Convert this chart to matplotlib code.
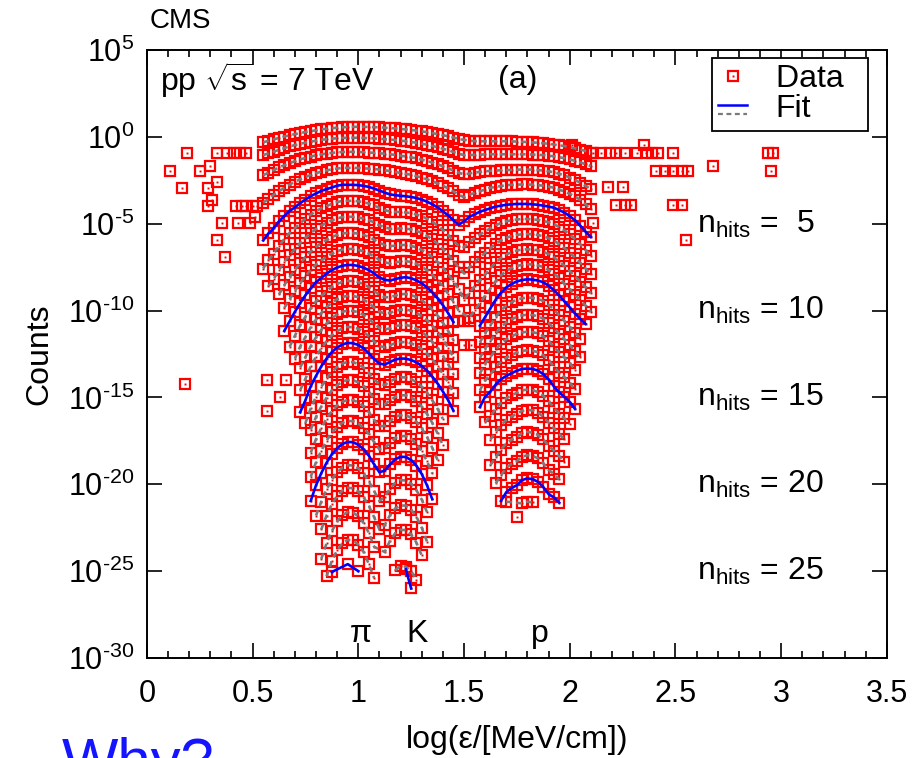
import numpy as np
import matplotlib
matplotlib.use("Agg")
import matplotlib.pyplot as plt
from matplotlib.legend_handler import HandlerBase
from matplotlib.lines import Line2D
from matplotlib.ticker import MultipleLocator, FixedLocator, NullLocator, FuncFormatter

plt.rcParams['font.family'] = ['Liberation Sans', 'DejaVu Sans']
plt.rcParams['mathtext.fontset'] = 'custom'
plt.rcParams['mathtext.rm'] = 'Liberation Sans'
plt.rcParams['mathtext.it'] = 'Liberation Sans:italic'
plt.rcParams['mathtext.default'] = 'regular'

# histogram bin width in log(eps)
bin_width = 0.025
nhits = list(range(1, 26))
# log10 of the pion peak height for each n_hits row
peak_log = [0.58, -0.05, -0.86, -1.78, -2.76, -3.68, -4.6, -5.53, -6.45, -7.37,
            -8.29, -9.15, -10.0, -10.94, -11.86, -12.95, -13.99, -15.14, -16.35, -17.56,
            -18.9, -20.2, -21.6, -23.2, -24.6]
# first bin of the pi/K part and of the proton part of each row
pik_start = [0.55, 0.55, 0.55, 0.55, 0.55, 0.55, 0.575, 0.625, 0.65, 0.65,
             0.675, 0.7, 0.725, 0.725, 0.725, 0.75, 0.775, 0.775, 0.775, 0.775,
             0.8, 0.825, 0.825, 0.85, 0.875]
prot_start = [1.5, 1.5, 1.5, 1.5, 1.5, 1.5, 1.5, 1.5, 1.525, 1.575,
              1.575, 1.575, 1.575, 1.575, 1.575, 1.6, 1.625, 1.625, 1.65, 1.675,
              1.7, 1.75, None, None, None]

# log10 counts relative to the pion peak, pi/K region
pik_01 = [-0.9, -0.8, -0.72, -0.64, -0.56, -0.49, -0.42, -0.36, -0.3, -0.25, -0.2, -0.15, -0.11, -0.08, -0.05, -0.03, -0.01, 0, 0, 0, -0.01, -0.02, -0.03, -0.05, -0.07, -0.09, -0.12, -0.15, -0.18, -0.22, -0.26, -0.31, -0.36, -0.42, -0.48, -0.55, -0.62, -0.7]
pik_02 = [-1.0, -0.9, -0.8, -0.7, -0.6, -0.5, -0.42, -0.35, -0.28, -0.22, -0.17, -0.12, -0.08, -0.05, -0.03, -0.01, 0, 0, 0, -0.01, -0.02, -0.04, -0.06, -0.08, -0.1, -0.13, -0.16, -0.2, -0.24, -0.29, -0.34, -0.4, -0.47, -0.55, -0.63, -0.72, -0.82, -0.92]
pik_03 = [-1.35, -1.2, -1.05, -0.9, -0.77, -0.65, -0.54, -0.44, -0.35, -0.27, -0.2, -0.15, -0.1, -0.06, -0.03, -0.01, 0, 0, -0.01, -0.02, -0.04, -0.06, -0.08, -0.11, -0.14, -0.18, -0.22, -0.27, -0.32, -0.38, -0.45, -0.53, -0.62, -0.72, -0.83, -0.95, -1.08, -1.2]
pik_04 = [-2.0, -1.8, -1.55, -1.35, -1.15, -0.97, -0.8, -0.66, -0.53, -0.41, -0.31, -0.22, -0.15, -0.09, -0.04, -0.01, 0, 0, -0.01, -0.03, -0.05, -0.07, -0.1, -0.14, -0.19, -0.24, -0.3, -0.35, -0.4, -0.48, -0.56, -0.66, -0.77, -0.9, -1.03, -1.19, -1.36, -1.55]
pik_05 = [-3.2, -2.8, -2.5, -2.1, -1.8, -1.5, -1.3, -1.05, -0.85, -0.65, -0.5, -0.35, -0.25, -0.15, -0.05, 0, 0, 0, -0.02, -0.06, -0.12, -0.22, -0.33, -0.45, -0.55, -0.6, -0.63, -0.66, -0.7, -0.76, -0.85, -0.97, -1.12, -1.3, -1.52, -1.76, -2.04, -2.3]
pik_06 = [-3.9, -3.42, -3.04, -2.58, -2.2, -1.85, -1.58, -1.28, -1.03, -0.79, -0.6, -0.43, -0.3, -0.18, -0.07, -0.01, 0, 0, -0.03, -0.08, -0.16, -0.27, -0.41, -0.53, -0.62, -0.64, -0.65, -0.67, -0.71, -0.79, -0.89, -1.03, -1.21, -1.42, -1.68, -1.96, -2.29, -2.61]
pik_07 = [-4.0, -3.58, -3.06, -2.6, -2.2, -1.86, -1.51, -1.21, -0.93, -0.7, -0.51, -0.35, -0.21, -0.09, -0.02, 0, 0, -0.04, -0.1, -0.19, -0.33, -0.49, -0.61, -0.69, -0.69, -0.67, -0.68, -0.73, -0.81, -0.93, -1.1, -1.3, -1.55, -1.84, -2.17, -2.54, -2.92]
pik_08 = [-3.54, -3.0, -2.55, -2.14, -1.74, -1.39, -1.07, -0.8, -0.59, -0.4, -0.24, -0.11, -0.03, 0, 0, -0.04, -0.12, -0.23, -0.39, -0.56, -0.7, -0.76, -0.73, -0.7, -0.69, -0.74, -0.84, -0.98, -1.16, -1.4, -1.67, -2.0, -2.37, -2.79, -3.24]
pik_09 = [-3.4, -2.9, -2.42, -1.97, -1.57, -1.21, -0.9, -0.67, -0.45, -0.27, -0.13, -0.04, 0, 0, -0.05, -0.14, -0.26, -0.44, -0.63, -0.78, -0.83, -0.78, -0.72, -0.7, -0.76, -0.86, -1.02, -1.23, -1.49, -1.8, -2.16, -2.58, -3.04, -3.55]
pik_10 = [-3.8, -3.25, -2.7, -2.2, -1.75, -1.35, -1.0, -0.75, -0.5, -0.3, -0.15, -0.05, 0, -0.01, -0.06, -0.16, -0.3, -0.49, -0.72, -0.86, -0.9, -0.82, -0.74, -0.71, -0.77, -0.89, -1.06, -1.29, -1.58, -1.92, -2.32, -2.78, -3.29]
pik_11 = [-3.8, -3.16, -2.56, -2.06, -1.58, -1.18, -0.87, -0.58, -0.35, -0.17, -0.06, 0, -0.01, -0.07, -0.19, -0.36, -0.58, -0.81, -0.94, -0.94, -0.85, -0.77, -0.75, -0.81, -0.94, -1.11, -1.35, -1.65, -2.0, -2.42, -2.88, -3.41]
pik_12 = [-3.62, -2.92, -2.37, -1.81, -1.36, -0.99, -0.66, -0.39, -0.2, -0.07, 0, -0.01, -0.08, -0.22, -0.42, -0.67, -0.91, -1.02, -0.98, -0.88, -0.8, -0.79, -0.86, -0.98, -1.17, -1.41, -1.72, -2.09, -2.51, -2.99, -3.53]
pik_13 = [-3.28, -2.68, -2.04, -1.54, -1.11, -0.74, -0.44, -0.22, -0.07, 0, -0.02, -0.1, -0.25, -0.48, -0.75, -1.0, -1.09, -1.02, -0.9, -0.84, -0.83, -0.9, -1.03, -1.22, -1.48, -1.8, -2.17, -2.61, -3.09, -3.66]
pik_14 = [-3.64, -2.99, -2.27, -1.72, -1.23, -0.82, -0.48, -0.25, -0.08, 0, -0.02, -0.11, -0.28, -0.54, -0.84, -1.1, -1.17, -1.06, -0.93, -0.87, -0.87, -0.95, -1.07, -1.28, -1.54, -1.87, -2.26, -2.7, -3.2, -3.78]
pik_15 = [-4.0, -3.3, -2.5, -1.9, -1.35, -0.9, -0.53, -0.27, -0.09, 0, -0.02, -0.12, -0.31, -0.6, -0.93, -1.19, -1.25, -1.1, -0.96, -0.9, -0.91, -0.99, -1.12, -1.33, -1.6, -1.94, -2.34, -2.8, -3.3, -3.9]
pik_16 = [-3.52, -2.68, -2.02, -1.44, -0.96, -0.57, -0.29, -0.1, 0, -0.02, -0.13, -0.33, -0.64, -1.0, -1.3, -1.33, -1.14, -0.97, -0.89, -0.9, -1.0, -1.17, -1.43, -1.78, -2.21, -2.71, -3.28]
pik_17 = [-2.86, -2.14, -1.53, -1.02, -0.6, -0.31, -0.1, 0, -0.02, -0.14, -0.35, -0.68, -1.08, -1.41, -1.41, -1.18, -0.98, -0.88, -0.89, -1.01, -1.22, -1.54, -1.96, -2.48, -3.08, -3.76]
pik_18 = [-3.04, -2.26, -1.62, -1.08, -0.64, -0.32, -0.11, 0, -0.02, -0.14, -0.38, -0.72, -1.15, -1.53, -1.49, -1.22, -0.98, -0.88, -0.89, -1.03, -1.27, -1.64, -2.14, -2.76, -3.46]
pik_19 = [-3.22, -2.38, -1.71, -1.14, -0.67, -0.34, -0.11, 0, -0.02, -0.15, -0.4, -0.76, -1.23, -1.64, -1.57, -1.26, -0.99, -0.87, -0.88, -1.04, -1.32, -1.75, -2.32, -3.03]
pik_20 = [-3.4, -2.5, -1.8, -1.2, -0.71, -0.36, -0.12, 0, -0.02, -0.16, -0.42, -0.8, -1.3, -1.75, -1.65, -1.3, -1.0, -0.86, -0.87, -1.05, -1.37, -1.85, -2.5, -3.3]
pik_21 = [-2.9, -2.1, -1.4, -0.83, -0.41, -0.14, 0, -0.02, -0.18, -0.48, -0.93, -1.5, -2.05, -1.83, -1.35, -1.02, -0.86, -0.88, -1.07, -1.44, -1.98, -2.7]
pik_22 = [-2.4, -1.6, -0.94, -0.47, -0.16, 0, -0.03, -0.21, -0.55, -1.05, -1.7, -2.4, -2.15, -1.58, -1.19, -1.02, -1.03, -1.26, -1.67, -2.3, -3.1]
pik_23 = [-2.7, -1.8, -1.1, -0.54, -0.18, 0, -0.03, -0.24, -0.63, -1.2, -2.0, None, -2.3, -1.65, -1.22, -1.02, -1.04, -1.29, -1.76, -2.5]
pik_24 = [-2.1, -1.2, -0.6, -0.2, 0, -0.03, -0.27, -0.7, -1.4, -2.2, None, None, None, -1.75, -1.5, -1.55, -1.8, -2.3]
pik_25 = [-0.45, None, None, 0.0, None, -0.4, None, None, None, None, None, None, None, None, -0.3, -1.4]

# log10 counts relative to the pion peak, proton region
prot_01 = [-0.75, -0.8, -0.82, -0.83, -0.83, -0.83, -0.83, -0.83, -0.83, -0.84, -0.85, -0.86, -0.88, -0.9, -0.92, -0.95, -0.98, -1.02, -1.06, -1.11, -1.17, -1.24, -1.31, -1.39, -1.48]
prot_02 = [-1.0, -1.0, -0.98, -0.97, -0.96, -0.95, -0.95, -0.95, -0.95, -0.95, -0.95, -0.95, -0.96, -0.97, -0.98, -1.0, -1.03, -1.07, -1.12, -1.18, -1.25, -1.33, -1.42, -1.52, -1.63]
prot_03 = [-1.3, -1.25, -1.2, -1.15, -1.12, -1.1, -1.08, -1.06, -1.05, -1.04, -1.03, -1.02, -1.02, -1.03, -1.05, -1.08, -1.12, -1.18, -1.26, -1.36, -1.48, -1.62, -1.78, -1.96, -2.15]
prot_04 = [-1.7, -1.55, -1.45, -1.35, -1.25, -1.15, -1.1, -1.05, -1.0, -0.98, -0.97, -0.96, -0.96, -0.97, -1.0, -1.03, -1.08, -1.15, -1.25, -1.37, -1.5, -1.65, -1.85, -2.1, -2.4]
prot_05 = [-2.1, -1.85, -1.7, -1.55, -1.45, -1.35, -1.25, -1.2, -1.15, -1.12, -1.1, -1.1, -1.1, -1.12, -1.15, -1.2, -1.25, -1.32, -1.45, -1.6, -1.8, -2.05, -2.35, -2.7, -3.0]
prot_06 = [-2.68, -2.38, -2.16, -1.94, -1.76, -1.58, -1.4, -1.28, -1.18, -1.12, -1.07, -1.05, -1.05, -1.07, -1.1, -1.16, -1.24, -1.35, -1.51, -1.7, -1.93, -2.2, -2.5, -2.84, -3.16]
prot_07 = [-3.26, -2.91, -2.62, -2.33, -2.07, -1.81, -1.55, -1.36, -1.21, -1.11, -1.04, -1.01, -0.99, -1.01, -1.05, -1.12, -1.23, -1.37, -1.57, -1.8, -2.06, -2.35, -2.65, -2.98, -3.32]
prot_08 = [-3.84, -3.44, -3.08, -2.72, -2.38, -2.04, -1.7, -1.44, -1.24, -1.11, -1.01, -0.96, -0.94, -0.96, -1.0, -1.08, -1.22, -1.4, -1.63, -1.9, -2.19, -2.5, -2.8, -3.12, -3.48]
prot_09 = [-3.97, -3.54, -3.11, -2.69, -2.27, -1.85, -1.52, -1.27, -1.1, -0.98, -0.92, -0.88, -0.9, -0.95, -1.04, -1.21, -1.42, -1.69, -2.0, -2.32, -2.65, -2.95, -3.26, -3.64]
prot_10 = [-3.5, -3.0, -2.5, -2.0, -1.6, -1.3, -1.1, -0.95, -0.87, -0.83, -0.85, -0.9, -1.0, -1.2, -1.45, -1.75, -2.1, -2.45, -2.8, -3.1, -3.4]
prot_11 = [-3.54, -3.02, -2.56, -2.08, -1.7, -1.42, -1.23, -1.08, -1.0, -0.96, -0.98, -1.04, -1.16, -1.38, -1.66, -1.97, -2.3, -2.64, -3.0, -3.32]
prot_12 = [-3.58, -3.04, -2.62, -2.16, -1.8, -1.54, -1.36, -1.21, -1.12, -1.09, -1.11, -1.18, -1.32, -1.56, -1.87, -2.19, -2.5, -2.83, -3.2, -3.54]
prot_13 = [-3.62, -3.06, -2.68, -2.24, -1.9, -1.66, -1.49, -1.34, -1.25, -1.22, -1.24, -1.32, -1.48, -1.74, -2.08, -2.41, -2.7, -3.02, -3.4]
prot_14 = [-3.66, -3.08, -2.74, -2.32, -2.0, -1.78, -1.62, -1.47, -1.37, -1.35, -1.37, -1.46, -1.64, -1.92, -2.29, -2.63, -2.9, -3.21, -3.6]
prot_15 = [-3.7, -3.1, -2.8, -2.4, -2.1, -1.9, -1.75, -1.6, -1.5, -1.48, -1.5, -1.6, -1.8, -2.1, -2.5, -2.85, -3.1, -3.4, -3.8]
prot_16 = [-3.48, -3.12, -2.7, -2.36, -2.1, -1.93, -1.78, -1.64, -1.6, -1.63, -1.74, -1.96, -2.28, -2.64, -2.98, -3.26, -3.58]
prot_17 = [-3.44, -3.0, -2.62, -2.3, -2.11, -1.96, -1.78, -1.73, -1.76, -1.88, -2.12, -2.46, -2.78, -3.11, -3.42]
prot_18 = [-3.76, -3.3, -2.88, -2.5, -2.29, -2.14, -1.92, -1.85, -1.89, -2.02, -2.28, -2.64, -2.92, -3.24, -3.58]
prot_19 = [-3.6, -3.14, -2.7, -2.47, -2.32, -2.06, -1.98, -2.02, -2.16, -2.44, -2.82, -3.06, -3.37]
prot_20 = [-3.4, -2.9, -2.65, -2.5, -2.2, -2.1, -2.15, -2.3, -2.6, -3.0, -3.2, -3.5]
prot_21 = [-2.1, None, None, -2.2, -2.1, -2.15]
prot_22 = [-1.7]

# isolated low-count bins (absolute log10 counts)
tail_x = [0.11, 0.165, 0.19, 0.25, 0.29, 0.29, 0.3, 0.31, 0.33, 0.33, 0.33, 0.355, 0.37, 0.38, 0.41,
          0.42, 0.43, 0.44, 0.45, 0.47, 0.47, 0.49, 0.5, 0.51, 0.52, 0.18, 0.57, 0.57, 0.66, 0.63,
          1.47, 1.5, 1.53, 1.5, 1.535, 2.01, 2.11, 2.15, 2.19, 2.22, 2.26, 2.32, 2.35, 2.36, 2.39,
          2.42, 2.49, 2.41, 2.45, 2.49, 2.53, 2.56, 2.68, 2.94, 2.96, 2.95, 2.18, 2.25, 2.22, 2.26,
          2.29, 2.49, 2.53, 2.55, 2.11]
tail_log = [-1.96, -2.94, -0.92, -1.96, -2.94, -3.97, -1.67, -3.63, -0.92, -2.6, -5.93, -4.95, -6.9, -0.92, -0.92,
            -3.97, -4.95, -0.92, -3.97, -0.92, -3.97, -4.95, -3.97, -4.6, -3.97, -14.2, -14.0, -15.8, -14.0, -15.0,
            -10.6, -10.6, -10.6, -12.0, -12.0, -0.46, -0.92, -0.92, -0.92, -0.92, -0.92, -0.92, -0.46, -0.92, -0.92,
            -0.92, -0.92, -1.96, -1.96, -1.96, -1.96, -1.96, -1.67, -0.92, -0.92, -1.96, -2.88, -2.88, -3.91, -3.91,
            -3.91, -3.91, -3.91, -5.93, -4.95]

hit_labels = [5, 10, 15, 20, 25]

pik_rows = [pik_01, pik_02, pik_03, pik_04, pik_05, pik_06, pik_07, pik_08, pik_09, pik_10,
            pik_11, pik_12, pik_13, pik_14, pik_15, pik_16, pik_17, pik_18, pik_19, pik_20,
            pik_21, pik_22, pik_23, pik_24, pik_25]
prot_rows = [prot_01, prot_02, prot_03, prot_04, prot_05, prot_06, prot_07, prot_08, prot_09, prot_10,
             prot_11, prot_12, prot_13, prot_14, prot_15, prot_16, prot_17, prot_18, prot_19, prot_20,
             prot_21, prot_22, None, None, None]

RED = '#ff0000'
sq = dict(ls='none', marker='s', ms=7.0, mfc='none', mec=RED, mew=1.6)
dot = dict(ls='none', marker='s', ms=1.4, mfc=RED, mec=RED, mew=0)
dash = (0, (2.2, 1.6))
GRAY = '#7a7a7a'


class FitHandler(HandlerBase):
    def create_artists(self, legend, orig_handle, xdescent, ydescent,
                       width, height, fontsize, trans):
        x = [-xdescent, -xdescent + width]
        top = Line2D(x, [0.55 * height - ydescent] * 2, color='blue', lw=1.8)
        bot = Line2D(x, [0.15 * height - ydescent] * 2, color=GRAY, lw=1.6, ls=dash)
        top.set_transform(trans)
        bot.set_transform(trans)
        return [top, bot]


fig = plt.figure(figsize=(9.18, 7.58), dpi=100)
ax = fig.add_axes([0.160, 0.132, 0.806, 0.802])

for k, n in enumerate(nhits):
    xs, ys = [], []
    for start, vals in ((pik_start[k], pik_rows[k]), (prot_start[k], prot_rows[k])):
        if vals is None:
            continue
        v = np.array(vals, dtype=float)
        xs.append(start + bin_width * np.arange(len(v)))
        ys.append(peak_log[k] + v)
    x = np.concatenate(xs)
    y = 10.0 ** np.concatenate(ys)
    ax.plot(x, y, zorder=2, **sq)
    ax.plot(x, y, zorder=2, **dot)
    ok = ~np.isnan(y)
    lx, ly = x[ok], y[ok]
    brk = np.where(np.diff(lx) > 0.1)[0] + 1
    lx = np.insert(lx, brk, np.nan)
    ly = np.insert(ly, brk, np.nan)
    if n % 5 == 0:
        ax.plot(lx, ly, color='blue', lw=1.9, zorder=4)
    else:
        ax.plot(lx, ly, color=GRAY, lw=1.9, ls=dash, zorder=3)

tail_y = 10.0 ** np.array(tail_log)
ax.plot(tail_x, tail_y, zorder=2, **sq)
ax.plot(tail_x, tail_y, zorder=2, **dot)

ax.set_xlim(0, 3.5)
ax.set_yscale('log')
ax.set_ylim(1e-30, 1e5)
ax.xaxis.set_major_locator(MultipleLocator(0.5))
ax.xaxis.set_minor_locator(MultipleLocator(0.1))
ax.xaxis.set_major_formatter(FuncFormatter(lambda v, p: f'{v:g}'))
ax.yaxis.set_major_locator(FixedLocator([10.0 ** e for e in range(5, -31, -5)]))
ax.yaxis.set_minor_locator(NullLocator())


def ylab(v, p):
    e = int(round(np.log10(v)))
    if e < 0:
        return r'$10^{\text{-}%d}$' % (-e)
    return r'$10^{%d}$' % e


ax.yaxis.set_major_formatter(FuncFormatter(ylab))
ax.tick_params(which='both', direction='in', top=True, right=True, width=1.2)
ax.tick_params(which='major', length=10.5)
ax.tick_params(which='minor', length=5)
ax.tick_params(axis='x', labelsize=22, pad=15)
ax.tick_params(axis='y', labelsize=22, pad=9)
for s in ax.spines.values():
    s.set_linewidth(1.4)

ax.set_xlabel('log(ε/[MeV/cm])', fontsize=23, labelpad=12)
ax.set_ylabel('Counts', fontsize=23, labelpad=10)

ax.text(0.018, 0.95, r'pp $\sqrt{s}$ = 7 TeV', transform=ax.transAxes, fontsize=23, va='center')
ax.text(0.501, 0.95, '(a)', transform=ax.transAxes, fontsize=23, va='center', ha='center')
fig.text(150 / 918, 1 - 21 / 758, 'CMS', fontsize=20, va='center')

for n in hit_labels:
    num = ('  %d' % n) if n < 10 else (' %d' % n)
    ax.text(2.6, 10.0 ** (-n - 0.5), r'$\mathrm{n}_{\mathrm{hits}}$ =' + num,
            fontsize=23, va='baseline', ha='left')

for name, xp in (('π', 1.01), ('K', 1.28), ('p', 1.86)):
    ax.text(xp, 10.0 ** -29.1, name, fontsize=23, ha='center', va='baseline')

data_h = (Line2D([], [], **sq), Line2D([], [], **dot))
fit_h = Line2D([], [])
leg = ax.legend([data_h, fit_h], ['Data  ', 'Fit'], handler_map={fit_h: FitHandler()},
                loc='upper right', bbox_to_anchor=(0.974, 0.987), fontsize=23,
                frameon=True, fancybox=False, framealpha=1, edgecolor='black',
                handlelength=0.9, handletextpad=0.9, borderpad=0.2, labelspacing=0.0,
                borderaxespad=0)
leg.get_frame().set_linewidth(1.3)

fig.text(62 / 918, 1 - 780 / 758, 'Why?', color='#1414ff', fontsize=43, va='baseline')

fig.savefig('out.png', dpi=100)
